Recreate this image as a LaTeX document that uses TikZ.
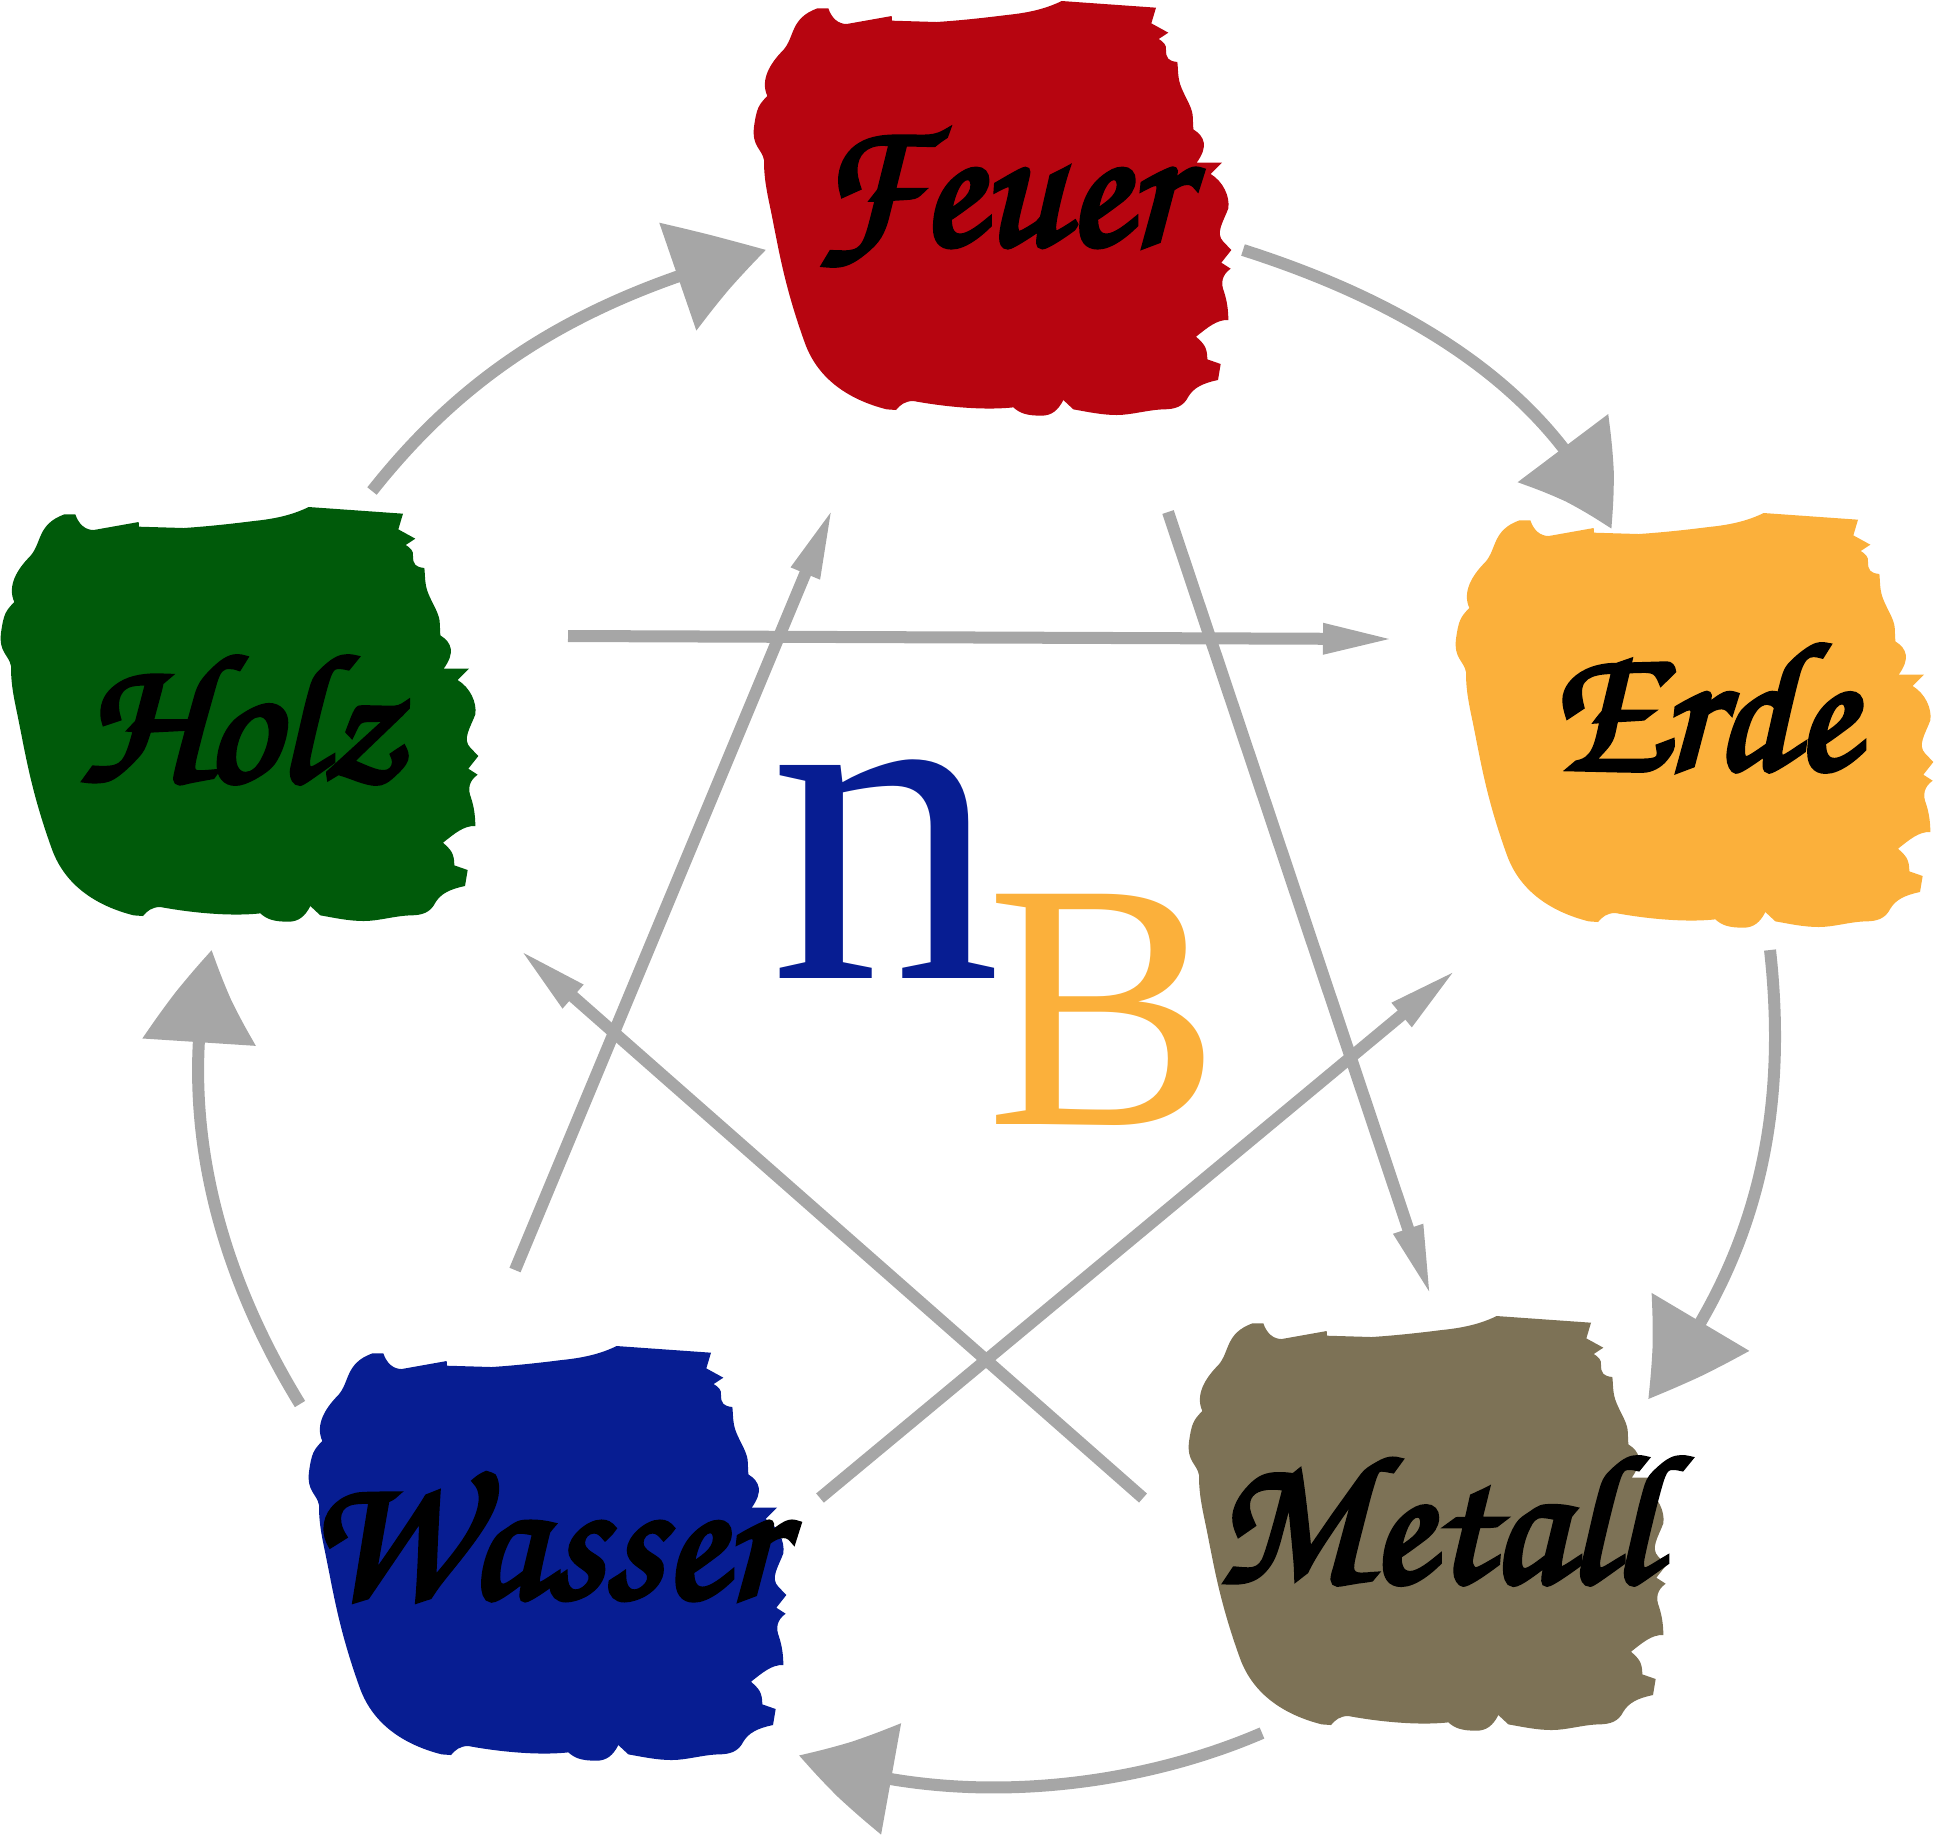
\documentclass[tikz,border=0pt]{standalone}
\usepackage{fontspec}
\setmainfont{Liberation Serif}
\newfontfamily\labelfont[FakeBold=3]{TeX Gyre Chorus}
\usetikzlibrary{arrows.meta,bending}

\newcommand{\blobshape}{(232,25) -- (265,25) .. controls (275,55) and (295,72) .. (320,72) -- (455,48) -- (456,62) -- (590,66) .. controls (680,60) and (760,50) .. (800,45) .. controls (870,38) and (920,25) .. (965,3) -- (1248,23) -- (1234,70) -- (1285,98) -- (1256,117) .. controls (1270,125) and (1280,135) .. (1278,150) .. controls (1278,175) and (1285,183) .. (1312,186) .. controls (1315,210) and (1312,235) .. (1325,265) .. controls (1335,290) and (1355,320) .. (1358,345) -- (1360,388) .. controls (1395,410) and (1405,440) .. (1370,488) -- (1446,488) -- (1412,522) .. controls (1450,545) and (1470,590) .. (1465,625) .. controls (1450,665) and (1425,700) .. (1450,725) -- (1474,750) -- (1444,788) -- (1472,806) .. controls (1445,825) and (1442,850) .. (1452,875) .. controls (1462,905) and (1465,935) .. (1465,960) .. controls (1430,958) and (1400,985) .. (1368,1010) .. controls (1390,1030) and (1402,1040) .. (1402,1078) -- (1442,1092) -- (1434,1140) .. controls (1385,1150) and (1360,1165) .. (1345,1190) .. controls (1330,1220) and (1305,1228) .. (1270,1228) .. controls (1220,1230) and (1175,1245) .. (1130,1245) .. controls (1085,1245) and (1040,1235) .. (1000,1228) -- (970,1200) .. controls (955,1230) and (935,1247) .. (905,1247) .. controls (860,1247) and (840,1240) .. (820,1222) .. controls (750,1230) and (640,1225) .. (520,1203) .. controls (495,1203) and (480,1215) .. (468,1230) -- (440,1228) .. controls (330,1200) and (235,1140) .. (195,1030) .. controls (130,850) and (115,740) .. (90,620) .. controls (75,550) and (72,520) .. (72,480) .. controls (65,445) and (35,440) .. (42,380) .. controls (50,325) and (55,315) .. (82,288) .. controls (60,240) and (90,190) .. (130,150) .. controls (165,110) and (150,55) .. (232,25) -- cycle}

\begin{document}
\begin{tikzpicture}[x=0.01cm, y=-0.01cm,
   elementlabel/.style={font=\labelfont\fontsize{52}{52}\selectfont, text=black, inner sep=0pt},
   ringarrow/.style={draw=arrowgray, line width=.12cm, -{Triangle[length=.95cm,width=1.1cm,bend]}},
   crossarrow/.style={draw=arrowgray, line width=.12cm, -{Triangle[length=.72cm,width=.28cm]}}
   ]
   \definecolor{feuerred}{HTML}{B70510}
   \definecolor{erdeyellow}{HTML}{FBB03B}
   \definecolor{metallbrown}{HTML}{7D7256}
   \definecolor{wasserblue}{HTML}{071D92}
   \definecolor{holzgreen}{HTML}{005A0A}
   \definecolor{arrowgray}{HTML}{A6A6A6}
   \useasboundingbox (0,0) rectangle (1934,1838);

   \fill[feuerred, shift={(740,0)}, scale=1/3] \blobshape;
   \fill[erdeyellow, shift={(1442,512)}, scale=1/3] \blobshape;
   \fill[metallbrown, shift={(1175,1315)}, scale=1/3] \blobshape;
   \fill[wasserblue, shift={(295,1345)}, scale=1/3] \blobshape;
   \fill[holzgreen, shift={(-13,506)}, scale=1/3] \blobshape;

   \node[elementlabel] (feuer) at (998,198) {Feuer};
   \node[elementlabel] (erde) at (1702,708) {Erde};
   \node[elementlabel] (metall) at (1435,1521) {Metall};
   \node[elementlabel] (wasser) at (543,1537) {Wasser};
   \node[elementlabel] (holz) at (240,720) {Holz};

   \node[text=wasserblue, font=\fontsize{132}{132}\selectfont, inner sep=0pt, anchor=base] (n) at (886,978) {n};
   \node[text=erdeyellow, font=\fontsize{100}{100}\selectfont, inner sep=0pt, anchor=base] (b) at (1104,1124) {B};

   \coordinate (feuerout) at (1243,250);
   \coordinate (erdein) at (1611,529);
   \coordinate (erdeout) at (1770,950);
   \coordinate (metallin) at (1648,1399);
   \coordinate (metallout) at (1262,1733);
   \coordinate (wasserin) at (799,1755);
   \coordinate (wasserout) at (300,1404);
   \coordinate (holzin) at (212,950);
   \coordinate (holzout) at (372,491);
   \coordinate (feuerin) at (766,250);

   \draw[ringarrow] (feuerout) .. controls (1400,300) and (1550,385) .. (erdein);
   \draw[ringarrow] (erdeout) .. controls (1790,1130) and (1750,1270) .. (metallin);
   \draw[ringarrow] (metallout) .. controls (1130,1790) and (950,1810) .. (wasserin);
   \draw[ringarrow] (wasserout) .. controls (230,1290) and (170,1130) .. (holzin);
   \draw[ringarrow] (holzout) .. controls (460,380) and (570,300) .. (feuerin);

   \coordinate (holztail) at (568,636);
   \coordinate (erdetip) at (1395,639);
   \coordinate (wassertail) at (515,1270);
   \coordinate (feuertip) at (833,507);
   \coordinate (feuertail) at (1168,512);
   \coordinate (metalltip) at (1431,1297);
   \coordinate (metalltail) at (1143,1498);
   \coordinate (holztip) at (519,949);
   \coordinate (wassertailb) at (820,1498);
   \coordinate (erdetipb) at (1457,969);

   \draw[crossarrow] (holztail) -- (erdetip);
   \draw[crossarrow] (wassertail) -- (feuertip);
   \draw[crossarrow] (feuertail) -- (metalltip);
   \draw[crossarrow] (metalltail) -- (holztip);
   \draw[crossarrow] (wassertailb) -- (erdetipb);
\end{tikzpicture}
\end{document}
